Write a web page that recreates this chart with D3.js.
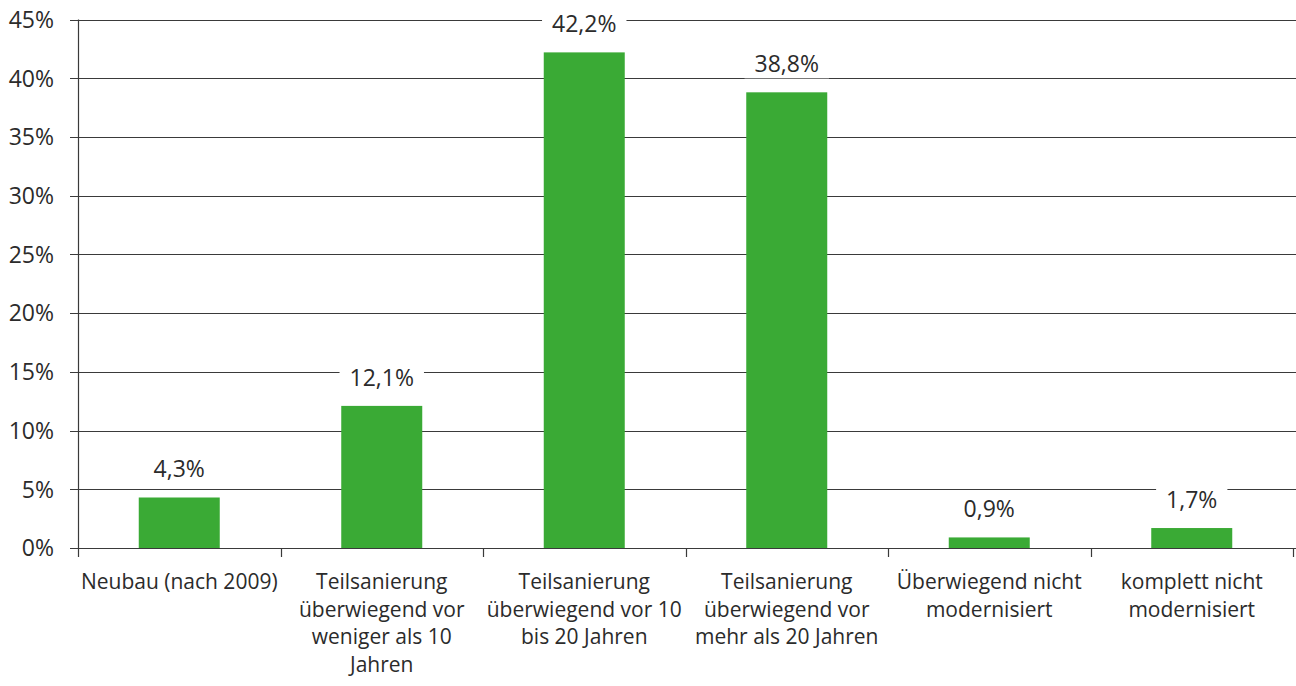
<!DOCTYPE html>
<html>
<head>
<meta charset="utf-8">
<script src="https://cdn.jsdelivr.net/npm/d3@7"></script>
<style>
  html, body { margin: 0; padding: 0; background: #fff; }
  svg { display: block; }
  text { font-family: "Open Sans", "Noto Sans", sans-serif; fill: #2b2b2b; }
</style>
</head>
<body>
<svg id="chart" width="1296" height="686"></svg>
<script>
// Anteile nach Modernisierungsstand (in %)
const categories = [
  ["Neubau (nach 2009)"],
  ["Teilsanierung", "überwiegend vor", "weniger als 10", "Jahren"],
  ["Teilsanierung", "überwiegend vor 10", "bis 20 Jahren"],
  ["Teilsanierung", "überwiegend vor", "mehr als 20 Jahren"],
  ["Überwiegend nicht", "modernisiert"],
  ["komplett nicht", "modernisiert"]
];
const values = [4.3, 12.1, 42.2, 38.8, 0.9, 1.7];
const yTicks = [0, 5, 10, 15, 20, 25, 30, 35, 40, 45];

const svg = d3.select("#chart");
const plotLeft = 78, plotRight = 1293, plotTop = 19.5, plotBottom = 548;

const x = d3.scaleBand()
  .domain(d3.range(values.length))
  .range([plotLeft, plotRight])
  .paddingInner(0.6)
  .paddingOuter(0.3);

const y = d3.scaleLinear().domain([0, 45]).range([plotBottom, plotTop]);

const fmt = v => d3.format(".1f")(v).replace(".", ",") + "%";

// horizontal gridlines with small tick stubs left of the axis
svg.append("g")
  .selectAll("line")
  .data(yTicks.filter(d => d > 0))
  .join("line")
  .attr("x1", plotLeft - 8).attr("x2", plotRight + 3)
  .attr("y1", d => Math.round(y(d)) + 0.5).attr("y2", d => Math.round(y(d)) + 0.5)
  .attr("stroke", "#3a3a3a").attr("stroke-width", 1.2);

// y tick labels
svg.append("g")
  .selectAll("text")
  .data(yTicks)
  .join("text")
  .attr("x", 54)
  .attr("y", d => y(d))
  .attr("dy", "0.36em")
  .attr("text-anchor", "end")
  .style("font-size", "23px")
  .text(d => d + "%");

// bars
svg.append("g")
  .selectAll("rect")
  .data(values)
  .join("rect")
  .attr("x", (d, i) => x(i))
  .attr("width", x.bandwidth())
  .attr("y", d => y(d))
  .attr("height", d => y(0) - y(d))
  .attr("fill", "#3aaa35");

// axis lines
svg.append("line")
  .attr("x1", plotLeft + 0.5).attr("x2", plotLeft + 0.5)
  .attr("y1", plotTop).attr("y2", plotBottom)
  .attr("stroke", "#3a3a3a").attr("stroke-width", 1.2);
svg.append("line")
  .attr("x1", plotLeft - 8).attr("x2", plotRight + 3)
  .attr("y1", Math.round(plotBottom) + 0.5).attr("y2", Math.round(plotBottom) + 0.5)
  .attr("stroke", "#3a3a3a").attr("stroke-width", 1.2);

// category separators on the x axis
const step = x.step();
svg.append("g")
  .selectAll("line")
  .data(d3.range(values.length + 1))
  .join("line")
  .attr("x1", i => Math.round(plotLeft + i * step) + 0.5)
  .attr("x2", i => Math.round(plotLeft + i * step) + 0.5)
  .attr("y1", plotBottom).attr("y2", plotBottom + 9)
  .attr("stroke", "#3a3a3a").attr("stroke-width", 1.2);

// value labels on white boxes
const lab = svg.append("g")
  .selectAll("g")
  .data(values)
  .join("g")
  .attr("transform", (d, i) => `translate(${x(i) + x.bandwidth() / 2},${y(d) - 20})`);
const labText = lab.append("text")
  .attr("text-anchor", "middle")
  .style("font-size", "23px")
  .text(d => fmt(d));
labText.each(function () {
  const b = this.getBBox();
  d3.select(this.parentNode).insert("rect", "text")
    .attr("x", b.x - 10).attr("y", b.y - 1)
    .attr("width", b.width + 20).attr("height", b.height)
    .attr("fill", "#fff");
});

// category labels
svg.append("g")
  .selectAll("text")
  .data(categories)
  .join("text")
  .attr("text-anchor", "middle")
  .attr("transform", (d, i) => `translate(${x(i) + x.bandwidth() / 2},589)`)
  .style("font-size", "21px")
  .selectAll("tspan")
  .data(d => d)
  .join("tspan")
  .attr("x", 0)
  .attr("y", (d, j) => j * 27.5)
  .text(d => d);
</script>
</body>
</html>
